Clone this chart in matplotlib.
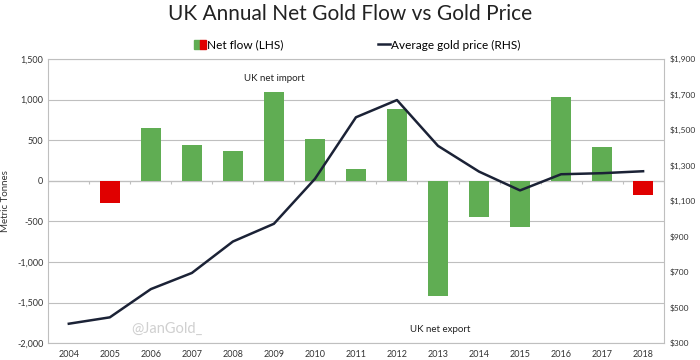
import matplotlib
matplotlib.use("Agg")
import matplotlib.pyplot as plt
import numpy as np
from matplotlib.patches import Patch
from matplotlib.lines import Line2D
from matplotlib.legend_handler import HandlerTuple
from matplotlib.ticker import FuncFormatter

years = [str(y) for y in range(2004, 2019)]
net_flow = [0, -270, 650, 435, 370, 1100, 510, 150, 890, -1425, -450, -570, 1030, 420, -170]
gold_price = [409, 445, 604, 695, 872, 972, 1225, 1572, 1669, 1411, 1266, 1160, 1251, 1257, 1268]
# only 2005 and 2018 are shown in red in the source
red_years = ['2005', '2018']

GREEN = '#60ad53'
RED = '#e00000'
NAVY = '#1b2236'
GRID = '#bfbfbf'

plt.rcParams['font.family'] = ['Lato', 'DejaVu Sans']

fig = plt.figure(figsize=(7, 3.6), dpi=100)
ax = fig.add_axes([0.069, 0.047, 0.879, 0.789])
x = np.arange(len(years))

colors = [RED if y in red_years else GREEN for y in years]
ax.bar(x, net_flow, width=0.5, color=colors, zorder=3)

ax.set_xlim(-0.5, len(years) - 0.5)
ax.set_ylim(-2000, 1500)
ax.set_yticks(np.arange(-2000, 1501, 500))
ax.yaxis.set_major_formatter(FuncFormatter(lambda v, p: '{:,.0f}'.format(v)))
ax.grid(axis='y', color=GRID, linewidth=0.8, zorder=0)
ax.set_xticks(x)
ax.set_xticklabels(years)
ax.tick_params(axis='both', labelsize=6.5, colors='#333333', length=0)
ax.tick_params(axis='x', pad=5)
ax.set_ylabel('Metric Tonnes', fontsize=7, color='#333333', labelpad=5)

# zero axis line with category tick marks
ax.axhline(0, color=GRID, linewidth=0.9, zorder=2)
ax.vlines(np.arange(-0.5, len(years)), -45, 0, color=GRID, linewidth=0.8, zorder=2)

for side in ['left', 'right', 'bottom', 'top']:
    ax.spines[side].set_color(GRID)
    ax.spines[side].set_linewidth(0.8)

ax2 = ax.twinx()
ax2.plot(x, gold_price, color=NAVY, linewidth=1.8, zorder=4)
ax2.set_ylim(300, 1900)
ax2.set_yticks(np.arange(300, 1901, 200))
ax2.yaxis.set_major_formatter(FuncFormatter(lambda v, p: '${:,.0f}'.format(v)))
ax2.tick_params(axis='y', labelsize=6, colors='#333333', length=0, pad=4)
for side in ['left', 'right', 'bottom', 'top']:
    ax2.spines[side].set_visible(False)

ax.text(5, 1200, 'UK net import', ha='center', va='bottom', fontsize=7, color='#222222')
ax.text(9.05, -1830, 'UK net export', ha='center', va='center', fontsize=7, color='#222222')
ax.text(2.4, -1830, '@JanGold_', ha='center', va='center', fontsize=10.5, color='#d0d0d0')

fig.text(0.5, 0.96, 'UK Annual Net Gold Flow vs Gold Price', ha='center', va='center',
         fontsize=15, color='#222222')

handles = [(Patch(color=GREEN), Patch(color=RED)),
           Line2D([], [], color=NAVY, linewidth=1.8)]
fig.legend(handles, ['Net flow (LHS)', 'Average gold price (RHS)'],
           handler_map={tuple: HandlerTuple(ndivide=None, pad=0)},
           loc='center', bbox_to_anchor=(0.51, 0.875), ncol=2, frameon=False,
           fontsize=8.5, handlelength=1.0, handleheight=0.8, handletextpad=0.1,
           columnspacing=8)

fig.savefig('out.png', dpi=100)
